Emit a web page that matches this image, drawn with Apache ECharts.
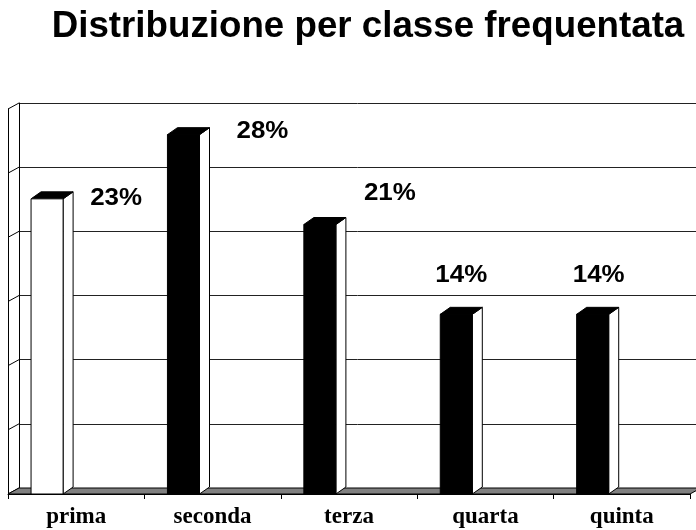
<!DOCTYPE html>
<html>
<head>
<meta charset="utf-8">
<script src="https://cdn.jsdelivr.net/npm/echarts@6/dist/echarts.min.js"></script>
<style>html,body{margin:0;padding:0;background:#fff}#c{width:696px;height:530px}</style>
</head>
<body>
<div id="c"></div>
<script>
// ---- data ----
const categories = ['prima', 'seconda', 'terza', 'quarta', 'quinta'];
const values = [23, 28, 21, 14, 14];
const yTicks = [0, 5, 10, 15, 20, 25, 30];
const titleText = 'Distribuzione per classe frequentata';

// ---- style / layout ----
const DEPTH_X = 11, DEPTH_Y = 6;      // wall depth
const BAR_DX = 10, BAR_DY = 7;        // bar depth
const frontFill = ['#ffffff', '#000000', '#000000', '#000000', '#000000'];
const labelOffsets = [[69, 0], [79, -3], [70, -31], [5, -39], [6, -39]];

const chart = echarts.init(document.getElementById('c'), null, {renderer: 'canvas'});

function bandInfo(api, i, v) {
  const p = api.coord([i, v]);
  const bw = api.size([1, 0])[0];
  return {x: p[0], y: p[1], bw: bw};
}

const option = {
  animation: false,
  backgroundColor: '#ffffff',
  graphic: [{
    type: 'text', x: 368, y: 27, scaleX: 1.02,
    style: {text: titleText, textAlign: 'center', textVerticalAlign: 'middle',
      font: 'bold 36px "Liberation Sans", Arial, sans-serif', fill: '#000'}
  }],
  grid: [
    {left: 8, right: 6, top: 109, bottom: 36},
    {left: 19, right: -20, top: 103, bottom: 42}
  ],
  xAxis: [
    {type: 'category', gridIndex: 0, data: categories, boundaryGap: true,
      axisLine: {show: true, lineStyle: {color: '#000', width: 1}},
      axisTick: {show: true, length: 5, lineStyle: {color: '#000'}},
      axisLabel: {color: '#000', fontFamily: '"Liberation Serif", "Times New Roman", serif',
        fontWeight: 'bold', fontSize: 23, margin: 12},
      z: 5},
    {type: 'value', gridIndex: 1, show: false, min: 0, max: 1}
  ],
  yAxis: [
    {type: 'value', gridIndex: 0, min: 0, max: 30, interval: 5,
      axisLine: {show: true, lineStyle: {color: '#000'}},
      axisTick: {show: false}, axisLabel: {show: false}, splitLine: {show: false}},
    {type: 'value', gridIndex: 1, min: 0, max: 30, interval: 5,
      axisLine: {show: true, lineStyle: {color: '#000'}},
      axisTick: {show: false}, axisLabel: {show: false},
      splitLine: {show: true, lineStyle: {color: '#222', width: 1}}}
  ],
  series: [
    { // left wall diagonals
      type: 'custom', xAxisIndex: 0, yAxisIndex: 0, z: 3,
      data: yTicks.map(t => [0, t]),
      renderItem: function (params, api) {
        const b = bandInfo(api, 0, api.value(1));
        const xl = b.x - b.bw / 2;
        return {type: 'line', shape: {x1: xl, y1: b.y, x2: xl + DEPTH_X, y2: b.y - DEPTH_Y},
          style: {stroke: '#000', lineWidth: 1}};
      }
    },
    { // floor
      type: 'custom', xAxisIndex: 0, yAxisIndex: 0, z: 4,
      data: [[0, 0]],
      renderItem: function (params, api) {
        const a = bandInfo(api, 0, 0);
        const b = bandInfo(api, categories.length - 1, 0);
        const xl = a.x - a.bw / 2, xr = b.x + b.bw / 2, y = a.y;
        return {type: 'polygon',
          shape: {points: [[xl, y], [xr, y], [xr + DEPTH_X, y - DEPTH_Y], [xl + DEPTH_X, y - DEPTH_Y]]},
          style: {fill: '#808080', stroke: '#000', lineWidth: 1}};
      }
    },
    { // bars
      type: 'custom', xAxisIndex: 0, yAxisIndex: 0, z: 6,
      data: values.map((v, i) => [i, v]),
      renderItem: function (params, api) {
        const i = api.value(0), v = api.value(1);
        const base = bandInfo(api, i, 0), top = bandInfo(api, i, v);
        const x0 = base.x - 0.331 * base.bw, x1 = x0 + 0.235 * base.bw;
        const yB = base.y, yT = top.y;
        const st = {stroke: '#000', lineWidth: 1};
        return {type: 'group', children: [
          {type: 'polygon', shape: {points: [[x1, yB], [x1, yT], [x1 + BAR_DX, yT - BAR_DY], [x1 + BAR_DX, yB - BAR_DY]]},
            style: Object.assign({fill: '#fff'}, st)},
          {type: 'polygon', shape: {points: [[x0, yT], [x1, yT], [x1 + BAR_DX, yT - BAR_DY], [x0 + BAR_DX, yT - BAR_DY]]},
            style: Object.assign({fill: '#000'}, st)},
          {type: 'rect', shape: {x: x0, y: yT, width: x1 - x0, height: yB - yT},
            style: Object.assign({fill: frontFill[i]}, st)}
        ]};
      }
    },
    { // data labels
      type: 'custom', xAxisIndex: 0, yAxisIndex: 0, z: 7,
      data: values.map((v, i) => [i, v]),
      renderItem: function (params, api) {
        const i = api.value(0), v = api.value(1);
        const top = bandInfo(api, i, v);
        const x0 = top.x - 0.331 * top.bw, w = 0.235 * top.bw;
        const cx = x0 + w / 2 + labelOffsets[i][0], cy = top.y + labelOffsets[i][1];
        return {type: 'text', x: cx, y: cy, scaleX: 1.08,
          style: {text: v + '%', textAlign: 'center', textVerticalAlign: 'middle',
            font: 'bold 24px "Liberation Sans", Arial, sans-serif', fill: '#000'}};
      }
    }
  ]
};
chart.setOption(option);
</script>
</body>
</html>
